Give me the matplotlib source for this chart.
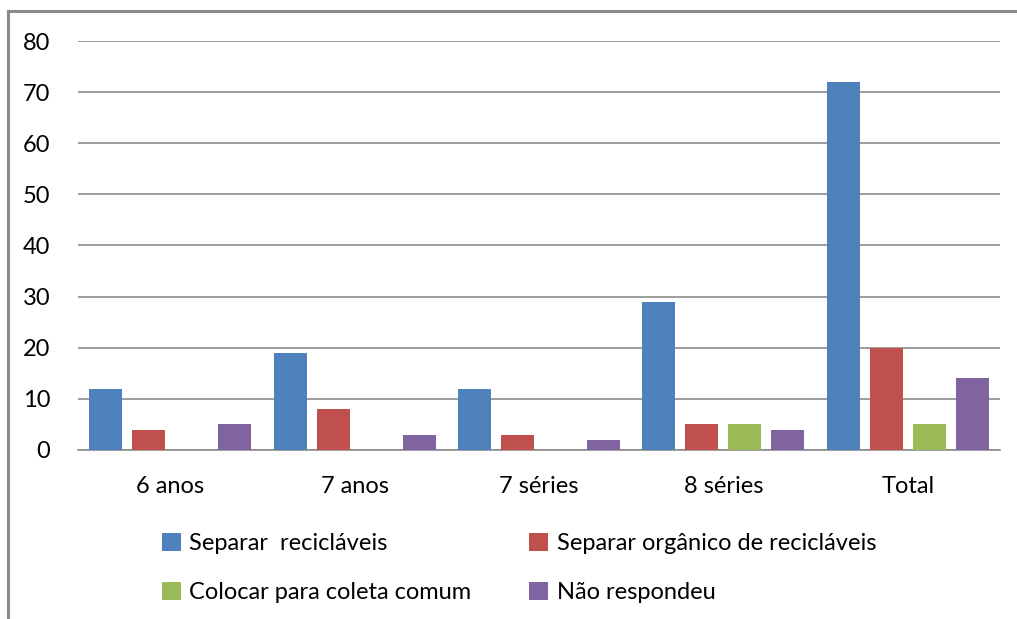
import numpy as np
import matplotlib.pyplot as plt
from matplotlib.lines import Line2D
from matplotlib.patches import Patch

plt.rcParams['font.family'] = ['Lato', 'DejaVu Sans']

categorias = ['6 anos', '7 anos', '7 séries', '8 séries', 'Total']
series = ['Separar  recicláveis', 'Separar orgânico de recicláveis',
          'Colocar para coleta comum', 'Não respondeu']
separar = [12, 19, 12, 29, 72]
organico = [4, 8, 3, 5, 20]
coleta = [0, 0, 0, 5, 5]
nao_resp = [5, 3, 2, 4, 14]
cores = ['#4F81BD', '#C0504D', '#9BBB59', '#8064A2']

W, H = 1017, 619
fig = plt.figure(figsize=(W / 100, H / 100), dpi=100)
ax = fig.add_axes([78 / W, 1 - 450 / H, (1000 - 78) / W, (450 - 41) / H])

x = np.arange(len(categorias))
passo = 0.233
largura = 0.179
valores = [separar, organico, coleta, nao_resp]
for i, (v, c) in enumerate(zip(valores, cores)):
    ax.bar(x + (i - 1.5) * passo, v, largura, color=c, zorder=3)

ax.set_xlim(-0.5, len(categorias) - 0.5)
ax.set_ylim(0, 80)
ax.set_yticks(range(0, 81, 10))
ax.yaxis.grid(True, color='#8C8C8C', linewidth=1.2, zorder=0)
for s in ['top', 'right', 'left']:
    ax.spines[s].set_visible(False)
ax.spines['bottom'].set_color('#8C8C8C')
ax.spines['bottom'].set_linewidth(1.2)
ax.set_xticks(x)
ax.set_xticklabels(categorias)
ax.tick_params(axis='both', length=0, labelsize=17, colors='#000000')
ax.tick_params(axis='y', pad=20)
ax.tick_params(axis='x', pad=19)

# legenda preenchida por linhas, como no Excel
ordem = [0, 2, 1, 3]
handles = [Patch(facecolor=cores[i], edgecolor='none') for i in ordem]
rotulos = [series[i] for i in ordem]
fig.legend(handles, rotulos, loc='upper left', bbox_to_anchor=(141 / W, 1 - 512 / H),
           ncol=2, frameon=False, fontsize=17, handlelength=0.8, handleheight=0.8,
           handletextpad=0.35, columnspacing=2.45, labelspacing=1.15)

# moldura cinza
fig.add_artist(Line2D([8 / W, 1], [1 - 11 / H, 1 - 11 / H], color='#8A8A8A', linewidth=2.2))
fig.add_artist(Line2D([8 / W, 8 / W], [0, 1 - 11 / H], color='#8A8A8A', linewidth=2.2))

fig.savefig('out.png', dpi=100)
